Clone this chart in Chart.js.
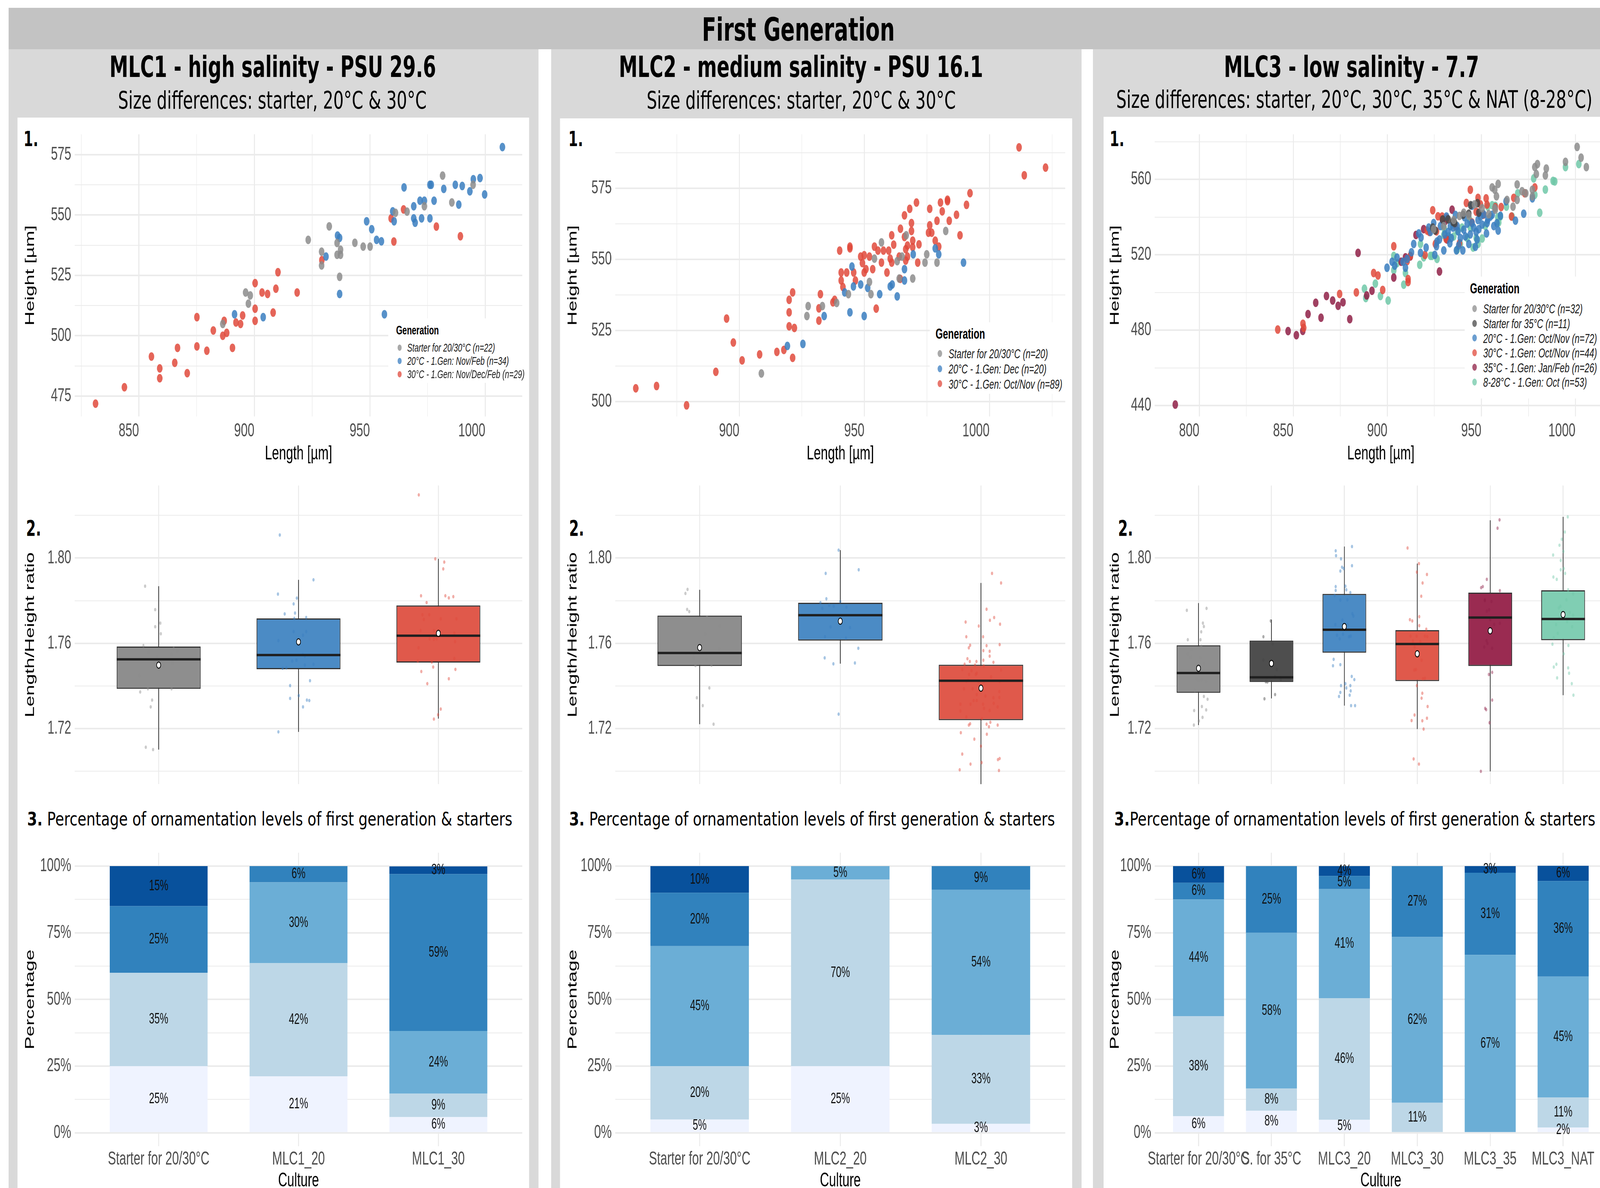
<!DOCTYPE html>
<html>
<head>
<meta charset="utf-8">
<script src="https://cdn.jsdelivr.net/npm/chart.js@4.4.1/dist/chart.umd.min.js"></script>
<style>
html, body { margin: 0; background: #fff; overflow: hidden; }
#wrap { position: fixed; left: 0; top: 0; width: 100vw; height: 100vh; overflow: hidden; background: #fff; }
#page { position: absolute; left: 0; top: 0; width: 6314px; height: 3041px; overflow: hidden; background: #fff; font-family: 'DejaVu Sans', sans-serif; transform-origin: 0 0; }
.abs { position: absolute; }
.txt { position: absolute; white-space: nowrap; line-height: 1; transform-origin: 0 0; color: #000; }
.lg { position: absolute; white-space: nowrap; line-height: 1; font-family: 'Liberation Sans', Arial, sans-serif; color: #1a1a1a; }
canvas { position: absolute; }
</style>
</head>
<body>
<div id="wrap">
<div id="page">
  <div class="abs" style="left:34px;top:20px;width:6280px;height:106px;background:#c3c3c3"></div>
  <div class="abs" style="left:34px;top:126px;width:2091px;height:2915px;background:#d9d9d9"></div>
  <div class="abs" style="left:2175px;top:126px;width:2093px;height:2915px;background:#d9d9d9"></div>
  <div class="abs" style="left:4313px;top:126px;width:2001px;height:2915px;background:#d9d9d9"></div>
  <div class="abs" style="left:69px;top:301px;width:2019px;height:2740px;background:#fff"></div>
  <div class="abs" style="left:2210px;top:303px;width:2021px;height:2738px;background:#fff"></div>
  <div class="abs" style="left:4355px;top:299px;width:1959px;height:2742px;background:#fff"></div>
</div>
</div>
<script>
// 1. Scatter: [length, height]
var mlc1Starter = [[886.3,504.9],[896.2,517.9],[898.2,516.7],[897.4,513.3],[923.3,539.7],[929.1,534.8],[929.1,529.1],[932.4,545.3],[935.8,538.4],[935.8,533.5],[937.3,535.6],[937.3,533.5],[936.9,524.4],[943.5,538.5],[947.1,536.9],[950.1,536.9],[961.1,550.9],[966.1,551.4],[973.6,553.6],[981.5,566.3],[985.5,555.2],[994.7,562.5]];
var mlc1T20 = [[891.4,508.9],[903.8,507.7],[931.0,532.8],[936.0,541.5],[936.9,540.5],[936.9,517.3],[948.6,547.4],[950.8,544.1],[952.9,539.7],[955.0,539.1],[956.3,508.9],[959.9,551.5],[960.5,547.4],[964.8,561.4],[969.0,553.6],[969.0,548.6],[969.6,546.8],[971.7,555.9],[972.4,548.6],[973.6,555.9],[976.0,548.6],[976.0,562.5],[976.6,562.5],[977.8,555.9],[982.0,560.8],[987.0,562.5],[988.5,554.3],[990.0,562.0],[993.3,559.8],[994.8,564.8],[997.7,565.3],[999.7,558.5],[1007.4,578.1]];
var mlc1T30 = [[831.2,471.9],[843.7,478.7],[855.4,491.4],[859.0,486.5],[859.0,482.4],[865.5,488.8],[866.7,495.0],[870.9,484.5],[875.1,507.7],[875.1,495.6],[879.4,493.8],[882.2,502.2],[886.3,500.0],[886.9,506.2],[888.0,501.2],[890.5,495.0],[892.0,505.5],[894.0,504.9],[894.9,508.4],[900.3,521.8],[900.3,511.2],[900.3,506.2],[903.3,517.9],[905.7,517.3],[908.1,509.6],[909.3,519.5],[910.2,526.3],[918.5,517.9],[929.2,531.3],[959.2,548.6],[960.4,539.0],[964.6,552.3],[978.8,545.2],[989.2,541.2]];

var mlc2Starter = [[908.8,509.9],[927.0,530.1],[927.5,533.6],[933.2,533.6],[938.9,534.7],[943.6,537.8],[952.0,542.1],[952.6,537.8],[954.0,550.3],[956.8,556.0],[963.1,549.4],[963.9,543.3],[965.0,551.0],[966.7,558.5],[969.3,543.3],[974.2,548.9],[974.9,551.8],[979.0,548.9],[982.5,560.0]];
var mlc2T20 = [[919.2,519.6],[925.4,520.3],[933.9,530.1],[942.1,538.4],[944.2,531.4],[945.0,547.5],[945.6,540.5],[948.5,541.2],[949.9,530.1],[951.3,540.0],[956.1,537.8],[960.3,540.5],[961.1,541.2],[963.1,537.0],[966.0,546.6],[966.0,542.6],[969.5,551.8],[978.3,553.9],[979.7,551.8],[989.6,548.9]];
var mlc2T30 = [[858.6,504.7],[866.9,505.5],[878.9,498.7],[890.6,510.5],[894.9,529.2],[897.6,520.8],[901.1,514.5],[908.1,516.6],[915.0,517.5],[917.8,518.2],[919.9,535.8],[919.9,531.4],[919.9,526.5],[921.3,538.4],[921.3,515.4],[922.0,525.9],[931.8,528.5],[931.8,532.8],[932.4,537.8],[937.4,534.9],[938.1,535.8],[940.1,553.1],[940.7,545.4],[940.7,542.6],[941.4,540.3],[942.9,545.4],[944.2,554.5],[944.2,553.9],[945.7,545.4],[946.4,542.6],[948.5,551.0],[949.2,548.7],[949.9,551.5],[949.9,545.4],[950.6,546.6],[952.0,551.0],[953.3,546.6],[954.0,554.5],[954.7,532.7],[955.4,553.1],[956.8,548.9],[957.6,553.1],[959.0,545.4],[959.7,553.1],[960.3,550.3],[960.9,548.9],[960.9,558.5],[961.7,555.2],[963.9,551.0],[964.3,543.2],[964.4,560.8],[966.0,565.5],[966.0,557.9],[966.5,553.6],[966.5,549.6],[967.2,551.0],[967.2,554.9],[968.1,567.8],[968.8,562.8],[968.8,560.0],[969.3,556.6],[969.3,554.3],[970.8,570.0],[971.3,548.9],[971.8,555.3],[975.6,559.4],[976.1,567.8],[976.1,562.0],[976.9,559.4],[978.3,556.6],[979.0,563.6],[979.7,554.5],[980.4,570.0],[981.1,566.9],[983.2,571.0],[983.2,570.5],[983.9,563.6],[986.8,565.7],[988.2,558.5],[990.8,569.2],[992.2,573.3],[1011.8,589.4],[1013.9,579.6],[1022.4,582.3]];

var mlc3Starter = [[946.3,546.7],[955.7,555.7],[957.1,554.5],[958.9,557.6],[958.0,551.0],[957.1,544.7],[966.8,545.5],[969.0,549.1],[971.6,553.7],[973.6,552.6],[977.1,554.5],[978.4,566.5],[979.8,568.1],[979.2,562.8],[984.0,562.1],[984.5,565.7],[994.7,569.3],[1000.9,577.2],[1003.0,571.5],[1005.8,566.5],[938.3,540.6],[940.6,542.3],[924.6,533.6],[935.3,538.4],[957.4,543.9],[977.1,551.0],[963.6,549.1],[943.3,540.7],[930.0,535.2],[950.4,544.7],[969.0,557.3],[953.9,541.5]];
var mlc3Starter35 = [[934.9,537.4],[935.8,536.8],[943.3,541.8],[947.9,547.4],[924.1,534.4],[929.4,538.7],[944.3,546.3],[940.2,541.2],[932.3,538.8],[948.6,542.3],[925.5,532.8]];
var mlc3T20 = [[899.8,513.1],[903.9,514.2],[905.1,518.5],[909.6,513.1],[910.5,517.8],[912.8,521.3],[917.6,521.0],[917.9,529.2],[920.6,523.8],[922.9,532.1],[925.2,519.9],[926.1,524.5],[927.7,528.1],[930.0,522.3],[930.5,530.8],[931.4,540.3],[932.3,532.1],[933.2,526.1],[934.0,528.9],[934.9,534.4],[936.2,541.1],[936.7,522.3],[937.6,532.4],[938.8,528.9],[940.1,522.3],[940.6,533.3],[941.0,539.9],[942.4,536.5],[943.3,525.7],[944.1,530.8],[945.0,546.0],[945.9,534.4],[947.2,532.1],[947.7,528.1],[948.2,538.4],[949.5,540.3],[950.4,536.0],[951.2,541.5],[952.7,531.3],[953.4,538.7],[954.8,540.3],[955.7,541.2],[958.9,532.8],[960.1,540.7],[963.1,548.3],[968.1,538.1],[972.5,541.8],[977.1,549.9],[924.6,536.8],[926.4,527.0],[933.5,535.2],[937.9,524.9],[941.5,529.7],[946.8,524.2],[956.6,535.2],[922.0,534.4],[916.7,531.3],[914.0,525.7],[908.3,516.3],[902.5,516.3],[928.2,535.2],[948.6,533.6],[953.0,536.8],[958.3,536.8],[937.1,535.2],[945.0,536.8]];
var mlc3T30 = [[841.7,480.3],[855.1,483.4],[855.5,481.2],[874.6,499.2],[883.5,500.0],[892.7,510.3],[895.0,509.0],[897.5,501.3],[903.4,524.5],[910.5,516.6],[911.0,507.1],[911.0,505.5],[912.2,519.4],[920.0,519.9],[921.1,532.8],[922.3,532.1],[924.1,543.6],[925.5,525.7],[926.1,532.4],[926.9,540.4],[929.1,540.3],[931.2,528.4],[931.7,539.5],[936.2,535.2],[938.3,526.1],[942.0,547.5],[944.1,554.5],[945.0,537.1],[947.2,542.8],[948.2,550.2],[949.5,546.7],[951.0,541.2],[952.5,549.9],[953.0,546.6],[957.4,545.3],[960.5,545.3],[966.0,540.3],[967.2,550.2],[973.0,552.6],[978.4,555.7]];
var mlc3T35 = [[787.2,440.5],[847.2,479.5],[851.6,477.3],[855.0,479.6],[857.8,488.5],[861.9,494.5],[864.7,486.6],[867.6,498.1],[870.9,495.7],[873.8,492.9],[876.4,494.8],[880.0,485.8],[884.4,521.0],[889.0,498.4],[891.8,500.9],[903.4,507.9],[907.3,516.3],[909.6,518.6],[912.2,519.1],[915.2,530.5],[927.7,511.1],[929.3,538.4],[930.8,537.9],[934.4,543.9],[919.3,533.6],[931.7,528.1]];
var mlc3Nat = [[887.8,502.0],[888.5,497.0],[893.6,504.7],[896.3,498.1],[900.4,495.7],[903.4,519.4],[903.4,511.8],[905.1,515.5],[908.7,504.1],[909.6,510.3],[917.2,514.7],[917.6,525.7],[919.3,518.6],[923.8,519.4],[926.4,517.8],[930.3,533.6],[932.6,529.7],[935.3,529.7],[937.1,522.6],[938.8,525.7],[939.7,534.4],[942.4,528.9],[943.8,538.4],[945.6,523.8],[947.2,528.9],[948.2,525.7],[950.4,528.6],[952.1,535.2],[953.4,545.5],[955.7,546.3],[957.4,546.0],[958.7,539.9],[959.2,537.1],[960.1,540.3],[963.3,545.5],[966.3,540.3],[969.3,552.6],[977.8,560.5],[978.4,551.8],[981.0,542.3],[984.0,554.6],[988.1,559.2],[989.0,558.9],[994.7,566.5],[1001.8,568.1],[930.0,530.5],[922.9,519.4],[944.1,534.4],[937.1,532.8]];

var mlc1Groups = ['Starter for 20/30°C (n=22)', '20°C - 1.Gen: Nov/Feb (n=34)', '30°C - 1.Gen: Nov/Dec/Feb (n=29)'];
var mlc2Groups = ['Starter for 20/30°C (n=20)', '20°C - 1.Gen: Dec (n=20)', '30°C - 1.Gen: Oct/Nov (n=89)'];
var mlc3Groups = ['Starter for 20/30°C (n=32)', 'Starter for 35°C (n=11)', '20°C - 1.Gen: Oct/Nov (n=72)', '30°C - 1.Gen: Oct/Nov (n=44)', '35°C - 1.Gen: Jan/Feb (n=26)', '8-28°C - 1.Gen: Oct (n=53)'];

// 2. Boxplot: [lower whisker, q1, median, q3, upper whisker, mean]
var mlc1Box = [[1.7102,1.7387,1.7525,1.7585,1.7868,1.7498],[1.7185,1.7479,1.7545,1.7717,1.7898,1.7607],[1.7247,1.7510,1.7636,1.7778,1.7996,1.7647]];
var mlc2Box = [[1.7221,1.7494,1.7555,1.7730,1.7851,1.7580],[1.7505,1.7613,1.7732,1.7790,1.8037,1.7704],[1.6900,1.7240,1.7425,1.7500,1.7883,1.7390]];
var mlc3Box = [[1.7217,1.7368,1.7461,1.7591,1.7789,1.7483],[1.7342,1.7419,1.7441,1.7613,1.7711,1.7506],[1.7308,1.7556,1.7664,1.7832,1.8054,1.7679],[1.7198,1.7423,1.7597,1.7662,1.7974,1.7551],[1.7000,1.7494,1.7721,1.7838,1.8177,1.7659],[1.7357,1.7615,1.7714,1.7849,1.8193,1.7735]];

// jitter points per box: [offset from box centre, ratio]
var mlc1Jitter = [
  [[-0.097,1.7868],[-0.025,1.7758],[0.012,1.7695],[-0.025,1.7678],[0.015,1.7645],[-0.109,1.7589],[-0.072,1.7559],[0.107,1.7576],[0.132,1.7562],[0.092,1.7549],[-0.012,1.7534],[-0.025,1.7515],[0.037,1.7495],[0.099,1.7508],[-0.139,1.7449],[-0.132,1.7372],[-0.077,1.7387],[0.092,1.7387],[-0.047,1.7334],[-0.057,1.7302],[-0.092,1.7113],[-0.040,1.7102]],
  [[-0.134,1.8108],[0.107,1.7898],[-0.147,1.7831],[-0.012,1.7812],[-0.035,1.7785],[-0.099,1.7738],[-0.025,1.7742],[0.055,1.7721],[-0.030,1.7717],[-0.035,1.7655],[0.055,1.7655],[0.032,1.7638],[-0.144,1.7613],[0.030,1.7547],[0.045,1.7540],[-0.015,1.7521],[-0.045,1.7517],[0.045,1.7498],[0.107,1.7502],[-0.114,1.7483],[-0.087,1.7485],[0.082,1.7425],[-0.060,1.7402],[0.002,1.7355],[-0.060,1.7342],[0.060,1.7334],[0.077,1.7332],[0.032,1.7302],[-0.144,1.7185]],
  [[-0.140,1.8296],[-0.022,1.7996],[0.042,1.7981],[0.035,1.7949],[-0.124,1.7823],[0.050,1.7823],[0.075,1.7813],[0.107,1.7819],[-0.084,1.7791],[-0.114,1.7734],[-0.065,1.7734],[-0.104,1.7712],[0.017,1.7715],[0.129,1.7715],[-0.127,1.7660],[-0.032,1.7660],[0.114,1.7648],[-0.062,1.7621],[-0.032,1.7619],[-0.012,1.7621],[0.119,1.7608],[-0.142,1.7579],[-0.147,1.7517],[-0.047,1.7512],[0.114,1.7529],[-0.037,1.7489],[-0.122,1.7468],[0.122,1.7478],[0.075,1.7434],[-0.079,1.7411],[0.017,1.7292],[-0.002,1.7265],[-0.032,1.7245]]
];
var mlc2Jitter = [
  [[-0.086,1.7853],[-0.101,1.7834],[-0.089,1.7759],[-0.074,1.7749],[0.052,1.7723],[0.143,1.7681],[0.040,1.7644],[0.138,1.7574],[-0.099,1.7555],[-0.040,1.7555],[-0.042,1.7532],[0.049,1.7523],[0.084,1.7498],[-0.030,1.7496],[0.069,1.7391],[-0.020,1.7345],[0.022,1.7308],[0.099,1.7221]],
  [[-0.012,1.8037],[0.131,1.7945],[-0.104,1.7928],[-0.099,1.7809],[-0.141,1.7791],[-0.079,1.7779],[-0.047,1.7774],[0.000,1.7796],[0.044,1.7770],[-0.128,1.7764],[-0.069,1.7677],[0.069,1.7674],[-0.109,1.7631],[0.040,1.7624],[0.128,1.7577],[-0.111,1.7532],[-0.049,1.7504],[0.104,1.7508],[-0.012,1.7268]],
  [[0.079,1.7928],[0.143,1.7883],[0.040,1.7760],[0.064,1.7708],[0.094,1.7721],[-0.109,1.7700],[-0.015,1.7681],[0.136,1.7690],[-0.104,1.7631],[0.015,1.7631],[-0.077,1.7591],[-0.086,1.7579],[0.040,1.7589],[0.133,1.7594],[0.017,1.7566],[0.062,1.7563],[0.062,1.7540],[-0.096,1.7528],[-0.079,1.7515],[-0.032,1.7515],[0.017,1.7521],[0.089,1.7511],[-0.116,1.7502],[-0.042,1.7498],[0.020,1.7494],[-0.133,1.7477],[-0.067,1.7472],[0.143,1.7475],[-0.030,1.7460],[-0.084,1.7454],[-0.037,1.7454],[0.072,1.7443],[-0.091,1.7426],[-0.104,1.7423],[-0.017,1.7421],[0.020,1.7421],[0.133,1.7421],[-0.121,1.7387],[-0.059,1.7387],[0.131,1.7374],[-0.030,1.7360],[0.032,1.7353],[0.089,1.7345],[-0.052,1.7332],[-0.030,1.7332],[0.131,1.7346],[-0.146,1.7315],[-0.074,1.7315],[0.015,1.7315],[0.091,1.7319],[0.119,1.7302],[0.022,1.7295],[0.062,1.7285],[-0.146,1.7283],[-0.104,1.7255],[0.007,1.7247],[-0.086,1.7217],[-0.077,1.7223],[0.067,1.7230],[0.040,1.7221],[0.119,1.7217],[0.057,1.7209],[-0.143,1.7181],[0.042,1.7174],[-0.047,1.7151],[0.000,1.7118],[-0.133,1.7081],[0.121,1.7055],[0.133,1.7060],[-0.074,1.7034],[0.005,1.7041],[-0.151,1.7007],[0.128,1.7004]]
];
var mlc3Jitter = [
  [[-0.160,1.7755],[0.110,1.7764],[0.060,1.7695],[0.073,1.7679],[0.037,1.7654],[0.027,1.7617],[-0.147,1.7617],[0.037,1.7586],[-0.096,1.7572],[-0.151,1.7551],[-0.105,1.7534],[0.023,1.7534],[0.078,1.7505],[-0.027,1.7434],[0.046,1.7430],[0.000,1.7426],[0.101,1.7421],[-0.050,1.7379],[0.073,1.7351],[0.124,1.7338],[0.046,1.7304],[-0.060,1.7285],[0.105,1.7288],[0.055,1.7253],[0.005,1.7236],[-0.064,1.7217]],
  [[-0.009,1.7705],[-0.110,1.7631],[0.018,1.7598],[-0.110,1.7522],[0.050,1.7443],[0.128,1.7431],[-0.078,1.7420],[-0.096,1.7340],[0.050,1.7360],[-0.055,1.7419],[0.073,1.7477]],
  [[0.105,1.8054],[-0.119,1.8034],[-0.114,1.8011],[-0.046,1.7996],[0.105,1.7964],[-0.032,1.7957],[-0.009,1.7951],[-0.055,1.7939],[0.014,1.7868],[-0.119,1.7866],[-0.119,1.7848],[-0.133,1.7824],[0.027,1.7851],[0.082,1.7838],[-0.055,1.7803],[0.041,1.7804],[0.110,1.7739],[0.124,1.7728],[-0.027,1.7709],[-0.124,1.7688],[0.046,1.7688],[-0.101,1.7638],[-0.018,1.7643],[0.064,1.7631],[0.087,1.7634],[-0.064,1.7621],[-0.147,1.7525],[-0.055,1.7500],[-0.156,1.7495],[0.101,1.7445],[0.137,1.7430],[0.014,1.7411],[-0.046,1.7402],[0.082,1.7402],[0.027,1.7391],[-0.055,1.7370],[0.087,1.7377],[-0.073,1.7351],[0.073,1.7357],[0.092,1.7308],[0.147,1.7308]],
  [[-0.133,1.8047],[0.023,1.7974],[-0.005,1.7934],[0.133,1.7923],[0.073,1.7883],[0.055,1.7821],[0.027,1.7725],[-0.101,1.7711],[-0.069,1.7705],[0.027,1.7683],[0.124,1.7666],[-0.092,1.7634],[-0.009,1.7634],[0.105,1.7634],[0.137,1.7632],[-0.060,1.7611],[0.041,1.7608],[-0.037,1.7583],[0.005,1.7540],[0.059,1.7521],[-0.018,1.7477],[-0.041,1.7475],[0.105,1.7436],[0.078,1.7434],[-0.005,1.7402],[0.069,1.7366],[0.059,1.7343],[0.142,1.7304],[-0.037,1.7264],[-0.078,1.7238],[0.069,1.7237],[0.133,1.7249],[0.087,1.7198],[-0.050,1.7058],[0.023,1.7034]],
  [[0.128,1.8179],[0.101,1.8140],[-0.046,1.7900],[-0.124,1.7861],[-0.101,1.7866],[0.133,1.7847],[-0.073,1.7800],[0.018,1.7796],[-0.014,1.7757],[0.000,1.7711],[0.133,1.7694],[-0.050,1.7613],[-0.037,1.7600],[-0.082,1.7583],[0.027,1.7577],[0.027,1.7464],[-0.018,1.7454],[0.027,1.7334],[-0.069,1.7295],[-0.055,1.7289],[-0.009,1.7228],[-0.128,1.7000],[-0.073,1.7804],[0.005,1.7664],[-0.046,1.7751],[0.055,1.7689]],
  [[0.064,1.8193],[0.023,1.8122],[-0.018,1.8088],[-0.050,1.8060],[0.005,1.8031],[-0.137,1.8014],[-0.032,1.7989],[0.009,1.7951],[-0.032,1.7945],[0.027,1.7928],[-0.133,1.7911],[-0.087,1.7900],[0.069,1.7851],[0.137,1.7832],[0.046,1.7804],[-0.037,1.7774],[-0.059,1.7766],[0.091,1.7745],[0.137,1.7732],[-0.096,1.7688],[0.124,1.7678],[-0.073,1.7647],[-0.128,1.7626],[-0.146,1.7596],[0.073,1.7590],[0.009,1.7551],[-0.092,1.7502],[-0.128,1.7489],[0.069,1.7485],[0.082,1.7460],[-0.082,1.7438],[0.119,1.7411],[0.142,1.7357],[-0.059,1.7719],[0.055,1.7702]]
];

// 3. Ornamentation levels in % (one array per level, lightest first)
var ornamentLevels = ['1', '2', '3', '4', '5'];
var mlc1Cultures = ['Starter for 20/30°C', 'MLC1_20', 'MLC1_30'];
var mlc1Levels = [[25, 21.2, 5.9], [35, 42.4, 8.8], [0, 30.3, 23.5], [25, 6.1, 58.8], [15, 0, 2.9]];
var mlc2Cultures = ['Starter for 20/30°C', 'MLC2_20', 'MLC2_30'];
var mlc2Levels = [[5, 25, 3.4], [20, 70, 33.3], [45, 5, 54.4], [20, 0, 8.9], [10, 0, 0]];
var mlc3Cultures = ['Starter for 20/30°C', 'S. for 35°C', 'MLC3_20', 'MLC3_30', 'MLC3_35', 'MLC3_NAT'];
var mlc3Levels = [[6.25, 8.3, 4.9, 0, 0, 2.0], [37.5, 8.3, 45.6, 11.3, 0, 11.3], [43.75, 58.4, 40.9, 62.1, 66.7, 45.3], [6.25, 25, 4.9, 26.6, 30.8, 35.8], [6.25, 0, 3.7, 0, 2.5, 5.7]];

// colours
var dotGray = '140,140,140', dotDark = '72,72,72', dotBlue = '58,126,192', dotRed = '224,74,60', dotMaroon = '143,32,70', dotTeal = '112,200,168';
var boxGray = '#8e8e8e', boxDark = '#4e4e4e', boxBlue = '#4b8bc5', boxRed = '#e0594b', boxMaroon = '#9a2b51', boxTeal = '#80ceb3';
var levelColors = ['#eff3ff', '#bdd7e7', '#6baed6', '#3182bd', '#08519c'];

var page = document.getElementById('page');
var FONT = "'Liberation Sans', Arial, sans-serif";
var GRID = '#ebebeb';

// layout of the three columns and three rows
var cols = [
  {x0: 69, x1: 2088, px0: 295, px1: 2061, tpad: 21},
  {x0: 2210, x1: 4231, px0: 2428, px1: 4204, tpad: 21},
  {x0: 4355, x1: 6360, px0: 4557, px1: 6341, tpad: 16}
];
var rowScatter = {y0: 301, y1: 1200, py0: 314, py1: 1066};
var rowBox = {y0: 1200, y1: 2050, py0: 1215, py1: 2048};
var rowBar = {y0: 2140, y1: 3053, py0: 2180, py1: 2934};

function rgba(c, a) { return 'rgba(' + c + ',' + a + ')'; }
function steps(a, b, s) {
  var out = [];
  for (var v = a; v <= b + 1e-9; v += s) out.push(Math.round(v * 1000) / 1000);
  return out;
}

function addText(html, x, baseline, size, bold, width, align, scale) {
  var d = document.createElement('div');
  d.className = 'txt';
  d.style.fontSize = size + 'px';
  d.style.fontWeight = bold ? 'bold' : 'normal';
  d.innerHTML = html;
  page.appendChild(d);
  var natural = d.offsetWidth;
  var s = scale || (width ? width / natural : 1);
  d.style.transform = 'scaleX(' + s + ')';
  d.style.left = (align === 'center' ? x - natural * s / 2 : x) + 'px';
  d.style.top = (baseline - 0.846 * size) + 'px';
  return s;
}

//Titel
addText('First Generation', 3150, 104, 82, true, 761, 'center');
addText('MLC1 - high salinity - PSU 29.6', 1076, 197, 74, true, 1289, 'center');
addText('MLC2 - medium salinity - PSU 16.1', 3161, 197, 74, true, 1438, 'center');
addText('MLC3 - low salinity - 7.7', 5333, 197, 74, true, 1007, 'center');
var subScale = addText('Size differences: starter, 20°C &amp; 30°C', 1075, 278, 63, false, 1218, 'center');
addText('Size differences: starter, 20°C &amp; 30°C', 3162, 278, 63, false, 1220, 'center');
addText('Size differences: starter, 20°C, 30°C, 35°C &amp; NAT (8-28°C)', 4405, 276, 63, false, 0, 'left', subScale);
var sec3 = 'Percentage of ornamentation levels of first generation &amp; starters';
addText('<b>3.</b> ' + sec3, 107, 2113, 48, false, 1915, 'left');
addText('<b>3.</b> ' + sec3, 2246, 2113, 48, false, 1917, 'left');
addText('<b>3.</b>' + sec3, 4397, 2113, 48, false, 1899, 'left');
[93, 2243, 4379].forEach(function (x) { addText('1.', x, 375, 54, true, 0, 'left'); });
[103, 2246, 4412].forEach(function (x) { addText('2.', x, 1372, 55, true, 0, 'left'); });

//Legende
function addLegend(box, labels, colors, s) {
  var bg = document.createElement('div');
  bg.className = 'abs';
  bg.style.cssText = 'left:' + box[0] + 'px;top:' + box[1] + 'px;width:' + box[2] + 'px;height:' + box[3] + 'px;background:#fff;z-index:2';
  page.appendChild(bg);
  var t = document.createElement('div');
  t.className = 'lg';
  t.style.cssText = 'left:' + s.titleX + 'px;top:' + (s.titleY - 0.49 * s.titleSize) + 'px;font-size:' + s.titleSize + 'px;font-weight:bold;color:#000;z-index:3';
  t.textContent = 'Generation';
  page.appendChild(t);
  labels.forEach(function (lab, i) {
    var cy = s.rowY + i * s.gap;
    var m = document.createElement('div');
    m.className = 'abs';
    m.style.cssText = 'left:' + (s.markX - s.r) + 'px;top:' + (cy - s.r) + 'px;width:' + (2 * s.r) + 'px;height:' + (2 * s.r) + 'px;border-radius:50%;background:' + rgba(colors[i], 0.75) + ';z-index:3';
    page.appendChild(m);
    var l = document.createElement('div');
    l.className = 'lg';
    l.style.cssText = 'left:' + s.textX + 'px;top:' + (cy - 0.49 * s.size) + 'px;font-size:' + s.size + 'px;font-style:italic;z-index:3';
    l.textContent = lab;
    page.appendChild(l);
  });
}
addLegend([1532, 815, 529, 165], mlc1Groups, [dotGray, dotBlue, dotRed],
  {titleX: 1563, titleY: 845, titleSize: 32, rowY: 890, gap: 34, markX: 1577, textX: 1607, size: 30, r: 8});
addLegend([3669, 825, 535, 183], mlc2Groups, [dotGray, dotBlue, dotRed],
  {titleX: 3692, titleY: 854, titleSize: 37, rowY: 905, gap: 38.6, markX: 3709, textX: 3743, size: 34, r: 9});
addLegend([5780, 708, 560, 312], mlc3Groups, [dotGray, dotDark, dotBlue, dotRed, dotMaroon, dotTeal],
  {titleX: 5801, titleY: 738, titleSize: 37, rowY: 790, gap: 37.6, markX: 5819, textX: 5853, size: 34, r: 9});

//Achsen
function xAxis(o) {
  return {
    type: 'linear', min: o.min, max: o.max, offset: false, stacked: !!o.stacked,
    afterBuildTicks: function (s) { s.ticks = o.ticks.map(function (v) { return {value: v}; }); },
    afterFit: function (s) { s.height = o.height; },
    grid: {color: GRID, drawTicks: false, offset: false, lineWidth: function (c) { return c.tick && o.major(c.tick.value) ? 4 : 2; }},
    border: {display: false},
    ticks: {display: o.show !== false, autoSkip: false, maxRotation: 0, minRotation: 0, align: o.align || 'center', padding: o.pad || 0,
      color: '#4d4d4d', font: {family: FONT, size: 48}, callback: o.fmt},
    title: {display: !!o.title, text: o.title, color: '#000', font: {family: FONT, size: 50}, padding: {top: 0, bottom: o.tpad || 0}}
  };
}
function yAxis(o) {
  return {
    type: 'linear', min: o.min, max: o.max, stacked: !!o.stacked,
    afterBuildTicks: function (s) { s.ticks = o.ticks.map(function (v) { return {value: v}; }); },
    afterFit: function (s) { s.width = o.width; },
    grid: {color: GRID, drawTicks: false, lineWidth: function (c) { return c.tick && o.major(c.tick.value) ? 4 : 2; }},
    border: {display: false},
    ticks: {padding: 14, color: '#4d4d4d', font: {family: FONT, size: 48}, callback: o.fmt},
    title: {display: true, text: o.title, color: '#000', font: {family: FONT, size: 50}, padding: {top: o.tpad, bottom: 0}}
  };
}
function makeCanvas(col, row) {
  var c = document.createElement('canvas');
  c.width = col.x1 - col.x0;
  c.height = row.y1 - row.y0;
  c.style.left = col.x0 + 'px';
  c.style.top = row.y0 + 'px';
  c.style.width = c.width + 'px';
  c.style.height = c.height + 'px';
  c.style.zIndex = 1;
  page.appendChild(c);
  return c;
}
function baseOptions(col, row, x, y) {
  return {
    responsive: false, animation: false, devicePixelRatio: 1,
    layout: {padding: {top: row.py0 - row.y0, right: col.x1 - col.px1, left: 0, bottom: 0}},
    plugins: {legend: {display: false}, tooltip: {enabled: false}},
    scales: {x: x, y: y}
  };
}

//Streudiagramm
function scatterChart(ci, groups, colors, xr, yr) {
  var col = cols[ci];
  var datasets = groups.map(function (g, i) {
    return {data: g.map(function (p) { return {x: p[0], y: p[1]}; }), backgroundColor: rgba(colors[i], 0.85), borderWidth: 0, pointRadius: 11};
  });
  new Chart(makeCanvas(col, rowScatter), {
    type: 'scatter',
    data: {datasets: datasets},
    options: baseOptions(col, rowScatter,
      xAxis({min: xr[0], max: xr[1], ticks: xr[2], major: xr[3], fmt: function (v) { return xr[3](v) ? String(v) : ''; },
        height: rowScatter.y1 - rowScatter.py1, align: 'end', pad: 9, title: 'Length [µm]', tpad: 8}),
      yAxis({min: yr[0], max: yr[1], ticks: yr[2], major: yr[3], fmt: function (v) { return yr[3](v) ? String(v) : ''; },
        width: col.px0 - col.x0, title: 'Height [µm]', tpad: col.tpad}))
  });
}
function every(n) { return function (v) { return Math.abs(v / n - Math.round(v / n)) < 1e-6; }; }

scatterChart(0, [mlc1Starter, mlc1T20, mlc1T30], [dotGray, dotBlue, dotRed],
  [822.2, 1016.0, steps(825, 1000, 25), every(50)], [466.6, 583.4, steps(475, 575, 12.5), every(25)]);
scatterChart(1, [mlc2Starter, mlc2T20, mlc2T30], [dotGray, dotBlue, dotRed],
  [850.4, 1030.3, steps(875, 1025, 25), every(50)], [494.8, 594.0, steps(500, 587.5, 12.5), every(25)]);
scatterChart(2, [mlc3Starter, mlc3Starter35, mlc3T20, mlc3T30, mlc3T35, mlc3Nat], [dotGray, dotDark, dotBlue, dotRed, dotMaroon, dotTeal],
  [776.3, 1016.7, steps(800, 1000, 25), every(50)], [434.2, 583.9, steps(440, 580, 20), every(40)]);

//Boxplot
function boxChart(ci, boxes, jitter, fills, dots) {
  var col = cols[ci];
  var n = boxes.length;
  var whisk = [], med = [], boxData = [], means = [];
  boxes.forEach(function (b, i) {
    var x = i + 1;
    whisk.push({x: x, y: b[0]}, {x: x, y: b[4]}, {x: x, y: null});
    med.push({x: x - 0.3, y: b[2]}, {x: x + 0.3, y: b[2]}, {x: x, y: null});
    boxData.push({x: x, y: [b[1], b[3]]});
    means.push({x: x, y: b[5]});
  });
  var datasets = [
    {type: 'line', data: whisk, borderColor: '#1a1a1a', borderWidth: 2.5, pointRadius: 0, spanGaps: false, order: 5},
    {type: 'bar', data: boxData, backgroundColor: fills, borderColor: '#333333', borderWidth: 3, borderSkipped: false, barPercentage: 0.6, categoryPercentage: 1, order: 4}
  ];
  jitter.forEach(function (pts, i) {
    datasets.push({type: 'scatter', data: pts.map(function (p) { return {x: i + 1 + p[0], y: p[1]}; }),
      backgroundColor: rgba(dots[i], 0.45), borderWidth: 0, pointRadius: 4.5, order: 3});
  });
  datasets.push({type: 'line', data: med, borderColor: '#1f1f1f', borderWidth: 6, pointRadius: 0, spanGaps: false, order: 2});
  datasets.push({type: 'scatter', data: means, backgroundColor: '#ffffff', borderColor: '#000000', borderWidth: 2.5, pointRadius: 8, order: 1});
  new Chart(makeCanvas(col, rowBox), {
    type: 'bar',
    data: {datasets: datasets},
    options: baseOptions(col, rowBox,
      xAxis({min: 0.4, max: n + 0.6, ticks: steps(1, n, 1), major: function () { return true; }, show: false, height: rowBox.y1 - rowBox.py1}),
      yAxis({min: 1.694, max: 1.834, ticks: steps(1.70, 1.82, 0.02), major: every(0.04), fmt: function (v) { return every(0.04)(v) ? v.toFixed(2) : ''; },
        width: col.px0 - col.x0, title: 'Length/Height ratio', tpad: col.tpad}))
  });
}
boxChart(0, mlc1Box, mlc1Jitter, [boxGray, boxBlue, boxRed], [dotGray, dotBlue, dotRed]);
boxChart(1, mlc2Box, mlc2Jitter, [boxGray, boxBlue, boxRed], [dotGray, dotBlue, dotRed]);
boxChart(2, mlc3Box, mlc3Jitter, [boxGray, boxDark, boxBlue, boxRed, boxMaroon, boxTeal], [dotGray, dotDark, dotBlue, dotRed, dotMaroon, dotTeal]);

//Prozentbeschriftung der Balken
var segmentLabels = {
  id: 'segmentLabels',
  afterDatasetsDraw: function (chart) {
    var ctx = chart.ctx;
    ctx.save();
    ctx.font = '38px ' + FONT;
    ctx.fillStyle = '#111';
    ctx.textAlign = 'center';
    ctx.textBaseline = 'middle';
    chart.data.datasets.forEach(function (ds, i) {
      chart.getDatasetMeta(i).data.forEach(function (bar, j) {
        var v = ds.data[j].y;
        if (!v) return;
        var p = bar.getProps(['x', 'y', 'base'], true);
        ctx.fillText(Math.round(v) + '%', p.x, (p.y + p.base) / 2);
      });
    });
    ctx.restore();
  }
};

//Balkendiagramm
function barChart(ci, cultures, levels) {
  var col = cols[ci];
  var n = cultures.length;
  var datasets = levels.map(function (vals, k) {
    return {label: ornamentLevels[k], data: vals.map(function (v, j) { return {x: j + 1, y: v}; }),
      backgroundColor: levelColors[k], borderWidth: 0, barPercentage: 0.7, categoryPercentage: 1};
  });
  new Chart(makeCanvas(col, rowBar), {
    type: 'bar',
    data: {datasets: datasets},
    options: baseOptions(col, rowBar,
      xAxis({min: 0.4, max: n + 0.6, ticks: steps(1, n, 1), major: function () { return true; }, stacked: true,
        fmt: function (v) { return cultures[Math.round(v) - 1]; }, height: rowBar.y1 - rowBar.py1, pad: 5, title: 'Culture'}),
      yAxis({min: -5, max: 105, ticks: steps(0, 100, 12.5), major: every(25), stacked: true,
        fmt: function (v) { return every(25)(v) ? v + '%' : ''; }, width: col.px0 - col.x0, title: 'Percentage', tpad: col.tpad})),
    plugins: [segmentLabels]
  });
}
barChart(0, mlc1Cultures, mlc1Levels);
barChart(1, mlc2Cultures, mlc2Levels);
barChart(2, mlc3Cultures, mlc3Levels);

//an Fenstergrösse anpassen
var sx = window.innerWidth / 6314, sy = window.innerHeight / 3041;
if (Math.abs(sx - 1) > 0.002 || Math.abs(sy - 1) > 0.002) {
  page.style.transform = 'scale(' + sx + ',' + sy + ')';
}
</script>
</body>
</html>
